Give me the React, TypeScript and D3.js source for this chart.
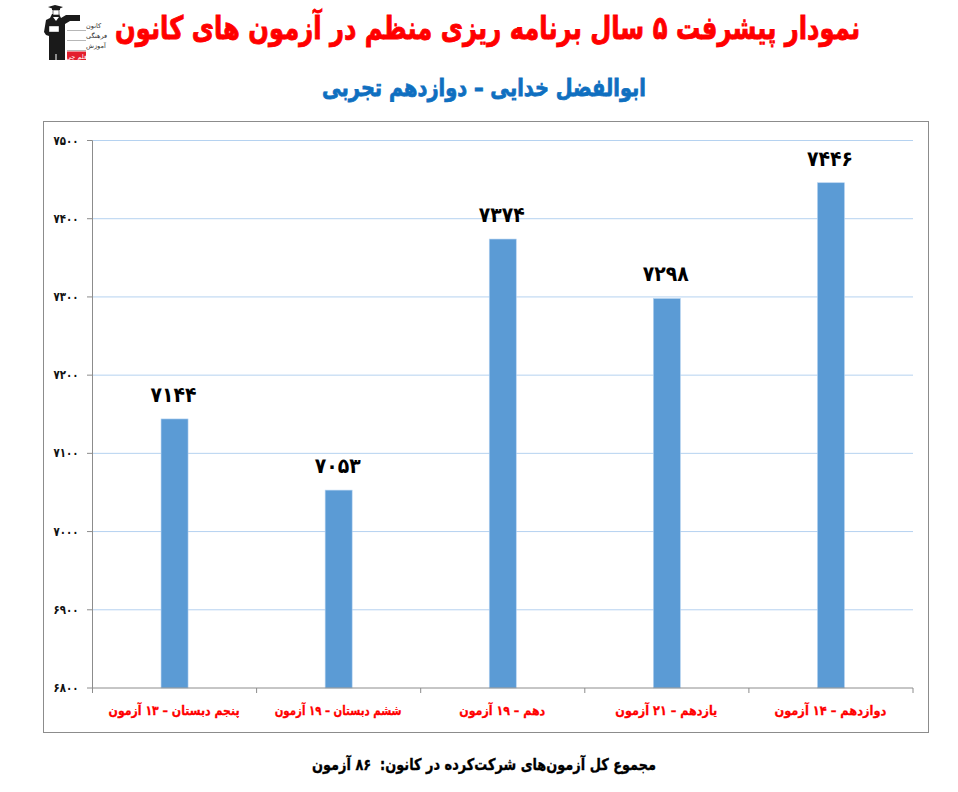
import React from "react";
import * as d3 from "d3";

const categories = [
  "پنجم دبستان – ۱۳ آزمون",
  "ششم دبستان – ۱۹ آزمون",
  "دهم – ۱۹ آزمون",
  "یازدهم – ۲۱ آزمون",
  "دوازدهم – ۱۴ آزمون",
];
const values = [7144, 7053, 7374, 7298, 7446];
const yTicks = [6800, 6900, 7000, 7100, 7200, 7300, 7400, 7500];
const categoryWidths = [131, 127, 86, 102, 112];
const titleText = "نمودار پیشرفت ۵ سال برنامه ریزی منظم در آزمون های کانون";
const subtitleText = "ابوالفضل خدایی – دوازدهم تجربی";
const footerText = "مجموع کل آزمون‌های شرکت‌کرده در کانون:  ۸۶ آزمون";
const logoLines = ["کانون", "فرهنگی", "آموزش"];

const FONT = "'DejaVu Sans', sans-serif";
const fa = (n: number) => String(n).replace(/\d/g, (d) => "۰۱۲۳۴۵۶۷۸۹"[+d]);

const x = d3.scaleBand<string>().domain(categories).range([92.5, 913]).paddingInner(0).paddingOuter(0);
const y = d3.scaleLinear().domain([6800, 7500]).range([688, 140.5]);
const BAR_W = 27;

function Label(props: any) {
  const { len, weight = 0.5, children, fill, ...rest } = props;
  return (
    <text
      {...rest}
      fill={fill}
      stroke={fill}
      strokeWidth={weight}
      direction="rtl"
      fontFamily={FONT}
      fontWeight="bold"
      textAnchor="middle"
      textLength={len}
      lengthAdjust="spacingAndGlyphs"
      style={{ whiteSpace: "pre" }}
    >
      {children}
    </text>
  );
}

function Logo() {
  return (
    <g>
      <path
        d="M52 14 L50 18 L46 20 L44 32 L46 35 L49 36 L49 60 L65 60 L65 24 L70 21 L80 21 L80 15 L66 15 L61 18 L59 14 Z"
        fill="#1a1a1a"
      />
      <rect x={55.5} y={54} width={1} height={6} fill="#fff" />
      <path d="M48 7 L55 5 L63 7 L60 8.5 L60 10 L52 10 L52 8.5 Z" fill="#1a1a1a" />
      <rect x={53} y={10} width={6} height={5} fill="#fff" stroke="#1a1a1a" strokeWidth={0.6} />
      <path d="M53 17 L56 21 L59 17 Z" fill="#fff" />
      <rect x={49} y={26} width={10} height={6} fill="#fff" stroke="#1a1a1a" strokeWidth={0.4} />
      <rect x={67} y={30} width={19} height={0.7} fill="#999" />
      <rect x={67} y={40} width={19} height={0.7} fill="#999" />
      <rect x={67} y={50} width={19} height={0.7} fill="#999" />
      {logoLines.map((t, i) => (
        <text key={t} x={86} y={27.5 + i * 10} fontSize={6.5} fill="#333" textAnchor="end" fontFamily={FONT} direction="rtl">
          {t}
        </text>
      ))}
      <rect x={67} y={51.5} width={19} height={8.5} fill="#e31e2d" />
      <text x={76.5} y={58.5} fontSize={6.5} fill="#fff" textAnchor="middle" fontFamily={FONT} direction="rtl">
        قلم چی
      </text>
    </g>
  );
}

export default function App() {
  return (
    <svg width={958} height={792} style={{ position: "absolute", left: 0, top: 0, background: "#fff" }}>
      <Logo />
      <Label x={487.5} y={39} fontSize={32} fill="#ff0000" len={745} weight={0.9}>{titleText}</Label>
      <Label x={484} y={96} fontSize={24} fill="#0f6fc0" len={324} weight={0.8}>{subtitleText}</Label>

      <rect x={43.5} y={121.5} width={885} height={611} fill="#fff" stroke="#8c8c8c" strokeWidth={1} />

      {yTicks.filter((t) => t > 6800).map((t) => (
        <line key={t} x1={92.5} x2={913} y1={y(t)} y2={y(t)} stroke="#b5d2f0" strokeWidth={1} />
      ))}

      {values.map((v, i) => {
        const c = categories[i];
        const cx = x(c)! + x.bandwidth() / 2;
        return (
          <g key={c}>
            <rect
              x={cx - BAR_W / 2}
              y={y(v)}
              width={BAR_W}
              height={y(6800) - y(v)}
              fill="#5b9bd5"
              stroke="#b5d2f0"
              strokeWidth={0.6}
            />
            <text
              x={cx - 1}
              y={y(v) - 17}
              fontFamily={FONT}
              fontWeight="bold"
              fontSize={21}
              fill="#000"
              textAnchor="middle"
              textLength={46}
              lengthAdjust="spacingAndGlyphs"
            >
              {fa(v)}
            </text>
            <Label x={cx - 0.5} y={715} fontSize={13} fill="#ff0000" len={categoryWidths[i]} weight={0.3}>{c}</Label>
          </g>
        );
      })}

      <line x1={92.5} x2={92.5} y1={140.5} y2={688} stroke="#8c8c8c" />
      <line x1={92.5} x2={913} y1={688} y2={688} stroke="#8c8c8c" />
      {yTicks.map((t) => (
        <g key={t}>
          <line x1={87} x2={92.5} y1={y(t)} y2={y(t)} stroke="#8c8c8c" />
          <text x={66} y={y(t) + 4} fontFamily={FONT} fontWeight="bold" fontSize={12.5} fill="#111" textAnchor="middle" textLength={25} lengthAdjust="spacingAndGlyphs">
            {fa(t)}
          </text>
        </g>
      ))}
      {categories.map((c) => (
        <line key={c} x1={x(c)!} x2={x(c)!} y1={688} y2={693} stroke="#8c8c8c" />
      ))}
      <line x1={913} x2={913} y1={688} y2={693} stroke="#8c8c8c" />

      <Label x={484} y={770} fontSize={16} fill="#000" len={344} weight={0.35}>{footerText}</Label>
    </svg>
  );
}
